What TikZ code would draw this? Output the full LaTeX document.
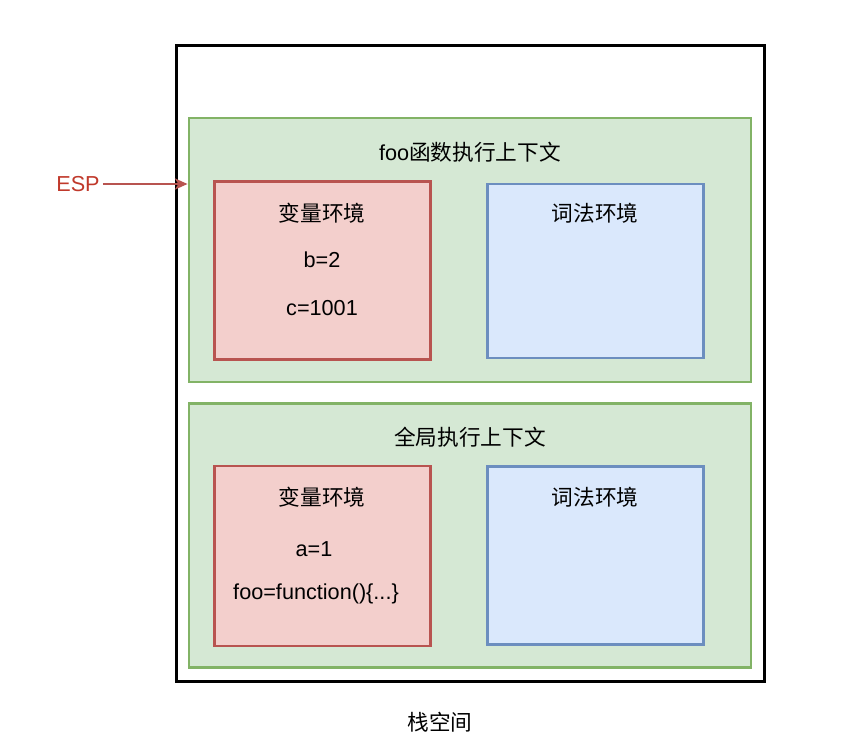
\documentclass[tikz,border=0pt]{standalone}
\usepackage{fontspec}
\setmainfont{Liberation Sans}
\newfontfamily\cjk{Noto Sans CJK SC}
\usepackage{tikz}
\usetikzlibrary{arrows.meta}
\usetikzlibrary{positioning}
\definecolor{ctxfill}{HTML}{D5E8D4}
\definecolor{ctxline}{HTML}{82B366}
\definecolor{varfill}{HTML}{F3CFCC}
\definecolor{varline}{HTML}{B85450}
\definecolor{lexfill}{HTML}{DAE8FC}
\definecolor{lexline}{HTML}{6C8EBF}
\definecolor{espred}{HTML}{C0392B}
\tikzset{>={Stealth[length=9pt,width=8pt,inset=2.5pt]}}
\tikzset{
  stackbox/.style = {draw=black, line width=2.3pt, minimum width=14.68cm, minimum height=15.88cm},
  ctxbox/.style   = {draw=ctxline, fill=ctxfill, line width=2pt, minimum width=14.05cm},
  varbox/.style   = {draw=varline, fill=varfill, line width=2pt, minimum width=5.38cm},
  lexbox/.style   = {draw=lexline, fill=lexfill, line width=2pt, minimum width=5.38cm},
  txt/.style      = {font=\fontsize{15.4}{18}\selectfont, inner sep=2pt}
}

\begin{document}
\begin{tikzpicture}[x=0.025cm,y=-0.025cm]
\useasboundingbox (0,0) rectangle (842,749);

% Stack
\node[stackbox] (stack) at (470.5,363.5) {};
\node[txt] (stacklabel) at (440,722) {\cjk 栈空间};

% foo context
\node[ctxbox, minimum height=6.6cm] (ctxfoo) at (470,250) {};
\node[txt] (ctxfoolabel) at (470,152) {foo{\cjk 函数执行上下文}};
\node[varbox, minimum height=4.43cm] (varfoo) at (322.5,270.5) {};
\node[lexbox, minimum height=4.35cm] (lexfoo) at (595.5,271) {};
\node[txt] (varfootitle) at (322,213) {\cjk 变量环境};
\node[txt] (varfoob) at (322,260) {b=2};
\node[txt] (varfooc) at (322,308) {c=1001};
\node[txt] (lexfootitle) at (595,213) {\cjk 词法环境};

% Global context
\node[ctxbox, minimum height=6.58cm] (ctxglobal) at (470,535.5) {};
\node[txt] (ctxgloballabel) at (470,437) {\cjk 全局执行上下文};
\node[varbox, minimum height=4.5cm] (varglobal) at (322.5,556) {};
\node[lexbox, minimum height=4.43cm] (lexglobal) at (595.5,555.5) {};
\node[txt] (varglobaltitle) at (322,497) {\cjk 变量环境};
\node[txt] (varglobala) at (314,549) {a=1};
\node[txt] (varglobalfoo) at (316,594) {foo=function()\{...\}};
\node[txt] (lexglobaltitle) at (595,497) {\cjk 词法环境};

% ESP pointer
\node[txt, text=espred] (esp) at (78,184) {ESP};
\draw[->, varline, line width=1pt] (esp) -- (esp -| ctxfoo.west);

\end{tikzpicture}
\end{document}
